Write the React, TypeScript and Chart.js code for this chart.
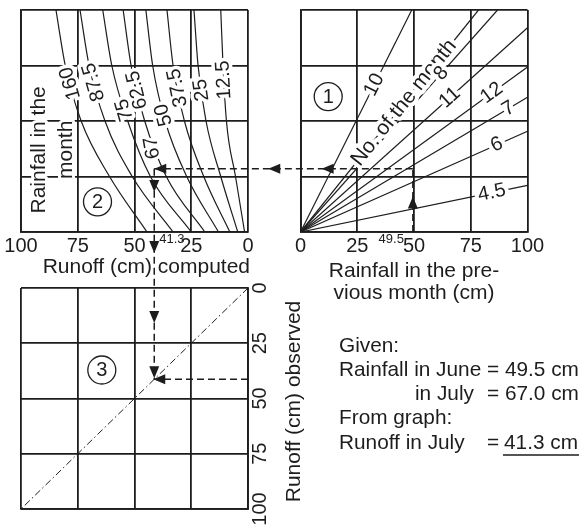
import React, { useEffect, useRef } from 'react';
import { Chart, registerables } from 'chart.js';

Chart.register(...registerables);

const W = 582;
const H = 526;
const INK = '#1d1d1d';
const FONT = '"Liberation Sans", Arial, Helvetica, sans-serif';

// ---------- data ----------
const AXIS_TICKS = [0, 25, 50, 75, 100];

// Panel 1: rainfall in previous month (x) -> index (y), one line per month
const MONTH_LABELS = ['10', 'No. of the month', '8', '11', '12', '7', '6', '4.5'];
const MONTH_END_RAIN = [49, 78.4, 86.8, 100, 100, 100, 100, 100];
const MONTH_END_INDEX = [100, 100, 100, 92, 74.3, 60.7, 45.4, 21];
const MONTH_LABEL_RAIN = [32.5, 45.6, 62, 65.8, 84.3, 91.6, 86.5, 84.3];

// Panel 2: runoff computed (x, reversed) vs index (y), one curve per monthly rainfall
const CURVE_LABELS = ['160', '87.5', '75', '62.5', '50', '37.5', '25', '12.5'];
const CURVE_INDEX = [0, 25, 50, 75, 100];
const RUNOFF_160 = [44.5, 61, 73.5, 80.5, 84.6];
const RUNOFF_87_5 = [33, 51, 63, 70, 74];
const RUNOFF_75 = [25, 43, 53, 60, 64];
const RUNOFF_62_5 = [19, 36, 45.5, 51.5, 55];
const RUNOFF_50 = [13, 27, 36.5, 42, 45];
const RUNOFF_37_5 = [8, 19.5, 28, 33, 35.7];
const RUNOFF_25 = [4.5, 12, 18.5, 22, 23.8];
const RUNOFF_12_5 = [1.5, 5.5, 9.5, 11, 12];
const CURVE_RUNOFF = [RUNOFF_160, RUNOFF_87_5, RUNOFF_75, RUNOFF_62_5, RUNOFF_50, RUNOFF_37_5, RUNOFF_25, RUNOFF_12_5];
const CURVE_LABEL_INDEX = [67, 67.5, 55, 64, 52.7, 65, 64, 68.5];

// Panel 3: computed vs observed (1:1 line)
const DIAGONAL_COMPUTED = [0, 100];
const DIAGONAL_OBSERVED = [0, 100];

// Worked example
const JUNE_RAINFALL = 49.5;
const JULY_RAINFALL = 67;
const JULY_INDEX = 28.5;
const RUNOFF_COMPUTED = 41.3;
const RUNOFF_OBSERVED = 41.3;

// Arrow tips along the worked path (panel units)
const P1_UP_ARROW_INDEX = 16;
const P1_LEFT_ARROW_RAIN = 9.3;
const P2_DOWN_ARROW_INDEX = 18;
const P3_DOWN_ARROW_OBS = 15.8;

// Panel markers
const MARK1 = [12.2, 61];
const MARK2 = [66.3, 13.6];
const MARK3 = [64.4, 37.1];
const MONTH_TEXT_RUNOFF = [89.4, 77.5];
const MONTH_TEXT_INDEX = 37;

// ---------- helpers ----------
function drawText(ctx: any, str: string, x: number, y: number, size: number, o: any = {}) {
  const { rot = 0, align = 'center', baseline = 'middle', halo = 0 } = o;
  ctx.save();
  ctx.translate(x, y);
  ctx.rotate(rot);
  ctx.font = `${size}px ${FONT}`;
  ctx.textAlign = align;
  ctx.textBaseline = baseline;
  if (halo) {
    ctx.lineJoin = 'round';
    ctx.strokeStyle = '#fff';
    ctx.lineWidth = halo;
    ctx.strokeText(str, 0, 0);
  }
  ctx.fillStyle = INK;
  ctx.fillText(str, 0, 0);
  ctx.restore();
}

function drawCircled(ctx: any, str: string, x: number, y: number) {
  ctx.save();
  ctx.fillStyle = '#fff';
  ctx.beginPath();
  ctx.arc(x, y, 14, 0, Math.PI * 2);
  ctx.fill();
  ctx.lineWidth = 1.3;
  ctx.strokeStyle = INK;
  ctx.stroke();
  ctx.restore();
  drawText(ctx, str, x, y + 0.5, 20);
}

function drawArrow(ctx: any, x: number, y: number, dir: string) {
  const L = 12;
  const HW = 5;
  const d = dir === 'up' ? [0, -1] : dir === 'down' ? [0, 1] : dir === 'left' ? [-1, 0] : [1, 0];
  const bx = x - d[0] * L;
  const by = y - d[1] * L;
  ctx.save();
  ctx.beginPath();
  ctx.moveTo(x, y);
  ctx.lineTo(bx - d[1] * HW, by + d[0] * HW);
  ctx.lineTo(bx + d[1] * HW, by - d[0] * HW);
  ctx.closePath();
  ctx.fillStyle = INK;
  ctx.fill();
  ctx.restore();
}

function dashed(ctx: any, pts: number[][]) {
  ctx.save();
  ctx.setLineDash([7, 4]);
  ctx.lineWidth = 1.5;
  ctx.strokeStyle = INK;
  ctx.beginPath();
  pts.forEach((p, i) => (i ? ctx.lineTo(p[0], p[1]) : ctx.moveTo(p[0], p[1])));
  ctx.stroke();
  ctx.restore();
}

function interp(xs: number[], ys: number[], v: number) {
  for (let i = 0; i < xs.length - 1; i++) {
    if (v >= xs[i] && v <= xs[i + 1]) {
      const t = (v - xs[i]) / (xs[i + 1] - xs[i]);
      return ys[i] + t * (ys[i + 1] - ys[i]);
    }
  }
  return v < xs[0] ? ys[0] : ys[ys.length - 1];
}

const gridOpts = { color: INK, lineWidth: 1.8, drawTicks: false };
const borderOpts = { display: true, color: INK, width: 1.8 };
const tickFont = { family: FONT, size: 20 };
const setTicks = (s: any) => {
  s.ticks = AXIS_TICKS.map((v) => ({ value: v }));
};

function baseOptions(padding: any) {
  return {
    responsive: false,
    animation: false,
    devicePixelRatio: 1,
    events: [],
    layout: { padding, autoPadding: false },
    plugins: { legend: { display: false }, tooltip: { enabled: false }, title: { display: false } },
  };
}

// ---------- panel plugins ----------
const panel1Plugin = {
  id: 'panel1Labels',
  afterDatasetsDraw(chart: any) {
    const { ctx } = chart;
    const { x, y } = chart.scales;
    MONTH_LABELS.forEach((lab, i) => {
      const slope = MONTH_END_INDEX[i] / MONTH_END_RAIN[i];
      const lx = MONTH_LABEL_RAIN[i];
      const px = x.getPixelForValue(lx);
      const py = y.getPixelForValue(slope * lx);
      const ang = Math.atan2(
        y.getPixelForValue(MONTH_END_INDEX[i]) - y.getPixelForValue(0),
        x.getPixelForValue(MONTH_END_RAIN[i]) - x.getPixelForValue(0)
      );
      drawText(ctx, lab, px, py, lab.length > 4 ? 21 : 20, { rot: ang, halo: 8 });
    });
    drawCircled(ctx, '1', x.getPixelForValue(MARK1[0]), y.getPixelForValue(MARK1[1]));
    drawText(ctx, String(JUNE_RAINFALL), x.getPixelForValue(JUNE_RAINFALL) - 9, chart.chartArea.bottom + 11, 13, {
      align: 'right',
      baseline: 'alphabetic',
    });
  },
};

const panel2Plugin = {
  id: 'panel2Labels',
  afterDatasetsDraw(chart: any) {
    const { ctx, chartArea } = chart;
    const { x, y } = chart.scales;
    CURVE_LABELS.forEach((lab, i) => {
      const v = CURVE_LABEL_INDEX[i];
      const r = interp(CURVE_INDEX, CURVE_RUNOFF[i], v);
      const rLo = interp(CURVE_INDEX, CURVE_RUNOFF[i], v - 6);
      const rHi = interp(CURVE_INDEX, CURVE_RUNOFF[i], v + 6);
      const ang = Math.atan2(
        y.getPixelForValue(v + 6) - y.getPixelForValue(v - 6),
        x.getPixelForValue(rHi) - x.getPixelForValue(rLo)
      );
      drawText(ctx, lab, x.getPixelForValue(r), y.getPixelForValue(v), 20, { rot: ang, halo: 7 });
    });
    drawText(ctx, 'Rainfall in the', x.getPixelForValue(MONTH_TEXT_RUNOFF[0]), y.getPixelForValue(MONTH_TEXT_INDEX), 21, {
      rot: -Math.PI / 2,
      baseline: 'alphabetic',
      halo: 6,
    });
    drawText(ctx, 'month', x.getPixelForValue(MONTH_TEXT_RUNOFF[1]), y.getPixelForValue(MONTH_TEXT_INDEX), 21, {
      rot: -Math.PI / 2,
      baseline: 'alphabetic',
      halo: 6,
    });
    drawCircled(ctx, '2', x.getPixelForValue(MARK2[0]), y.getPixelForValue(MARK2[1]));
    const xr = x.getPixelForValue(RUNOFF_COMPUTED);
    drawText(ctx, String(JULY_RAINFALL), xr - 2, y.getPixelForValue(JULY_INDEX) - 21, 20, {
      rot: (-100 * Math.PI) / 180,
      halo: 6,
    });
    drawText(ctx, String(RUNOFF_COMPUTED), xr + 5, chartArea.bottom + 11, 13, { align: 'left', baseline: 'alphabetic' });
    drawText(ctx, 'Runoff (cm) computed', chartArea.right + 2, chartArea.bottom + 41, 21, {
      align: 'right',
      baseline: 'alphabetic',
    });
  },
};

function makePanel3Plugin(c1: any, c2: any) {
  return {
    id: 'panel3Labels',
    afterDraw(chart: any) {
      const { ctx, chartArea } = chart;
      const a1 = c1.scales;
      const a2 = c2.scales;
      const a3 = chart.scales;
      drawCircled(ctx, '3', a3.x.getPixelForValue(MARK3[0]), a3.y.getPixelForValue(MARK3[1]));
      drawText(ctx, 'Runoff (cm) observed', chartArea.right + 52, (chartArea.top + chartArea.bottom) / 2 + 3, 21, {
        rot: -Math.PI / 2,
        baseline: 'alphabetic',
      });

      // worked path
      const xJune = a1.x.getPixelForValue(JUNE_RAINFALL);
      const yIdx1 = a1.y.getPixelForValue(JULY_INDEX);
      const yIdx2 = a2.y.getPixelForValue(JULY_INDEX);
      const xRun2 = a2.x.getPixelForValue(RUNOFF_COMPUTED);
      const xRun3 = a3.x.getPixelForValue(RUNOFF_COMPUTED);
      const yObs3 = a3.y.getPixelForValue(RUNOFF_OBSERVED);
      dashed(ctx, [[xJune, a1.y.getPixelForValue(0)], [xJune, yIdx1]]);
      dashed(ctx, [[xJune, yIdx1], [xRun2, yIdx2]]);
      dashed(ctx, [[xRun2, yIdx2], [xRun3, yObs3]]);
      dashed(ctx, [[a3.x.getPixelForValue(0), yObs3], [xRun3, yObs3]]);

      drawArrow(ctx, xJune, a1.y.getPixelForValue(P1_UP_ARROW_INDEX), 'up');
      drawArrow(ctx, a1.x.getPixelForValue(P1_LEFT_ARROW_RAIN), yIdx1, 'left');
      const gapMid = (c2.chartArea.right + c1.chartArea.left) / 2;
      drawArrow(ctx, gapMid - 6, yIdx1, 'left');
      drawArrow(ctx, xRun2, yIdx2, 'left');
      drawArrow(ctx, xRun2, a2.y.getPixelForValue(P2_DOWN_ARROW_INDEX), 'down');
      drawArrow(ctx, xRun2, c2.chartArea.bottom + 21, 'down');
      drawArrow(ctx, xRun3, a3.y.getPixelForValue(P3_DOWN_ARROW_OBS), 'down');
      drawArrow(ctx, xRun3, yObs3 - 1, 'down');
      drawArrow(ctx, xRun3 - 1, yObs3, 'left');

      // given / result text
      const fs = 20.8;
      const opt = { align: 'left', baseline: 'alphabetic' };
      const eqX = 487;
      drawText(ctx, 'Given:', 339, 352, fs, opt);
      drawText(ctx, `Rainfall in June = ${JUNE_RAINFALL.toFixed(1)} cm`, 339, 376, fs, opt);
      drawText(ctx, 'in July', 415, 400, fs, opt);
      drawText(ctx, `= ${JULY_RAINFALL.toFixed(1)} cm`, eqX, 400, fs, opt);
      drawText(ctx, 'From graph:', 339, 424, fs, opt);
      drawText(ctx, 'Runoff in July', 339, 449, fs, opt);
      drawText(ctx, '=', eqX, 449, fs, opt);
      const res = `${RUNOFF_COMPUTED} cm`;
      drawText(ctx, res, 504, 449, fs, opt);
      ctx.save();
      ctx.font = `${fs}px ${FONT}`;
      const w = ctx.measureText(res).width;
      ctx.strokeStyle = INK;
      ctx.lineWidth = 1.5;
      ctx.beginPath();
      ctx.moveTo(503, 455);
      ctx.lineTo(505 + w, 455);
      ctx.stroke();
      ctx.restore();
    },
  };
}

// ---------- component ----------
export default function App() {
  const r1 = useRef<HTMLCanvasElement>(null);
  const r2 = useRef<HTMLCanvasElement>(null);
  const r3 = useRef<HTMLCanvasElement>(null);

  useEffect(() => {
    const c2 = new Chart(r2.current as any, {
      type: 'scatter',
      data: {
        datasets: CURVE_LABELS.map((lab, i) => ({
          label: lab,
          data: CURVE_INDEX.map((v, j) => ({ x: CURVE_RUNOFF[i][j], y: v })),
          showLine: true,
          borderColor: INK,
          borderWidth: 1.2,
          pointRadius: 0,
          cubicInterpolationMode: 'monotone',
          fill: false,
        })),
      },
      options: {
        ...baseOptions({ left: 21, top: 10, right: W - 248, bottom: H - 232 - 40 }),
        scales: {
          x: {
            type: 'linear',
            reverse: true,
            min: 0,
            max: 100,
            afterBuildTicks: setTicks,
            ticks: { font: tickFont, color: INK, padding: 2, maxRotation: 0, autoSkip: false },
            grid: gridOpts,
            border: borderOpts,
            afterFit: (s: any) => {
              s.height = 40;
            },
          },
          y: {
            type: 'linear',
            min: 0,
            max: 100,
            afterBuildTicks: setTicks,
            ticks: { display: false },
            grid: gridOpts,
            border: borderOpts,
            afterFit: (s: any) => {
              s.width = 0;
            },
          },
        },
      } as any,
      plugins: [panel2Plugin],
    } as any);

    const c1 = new Chart(r1.current as any, {
      type: 'scatter',
      data: {
        datasets: MONTH_LABELS.map((lab, i) => ({
          label: lab,
          data: [
            { x: 0, y: 0 },
            { x: MONTH_END_RAIN[i], y: MONTH_END_INDEX[i] },
          ],
          showLine: true,
          borderColor: INK,
          borderWidth: 1.2,
          pointRadius: 0,
          fill: false,
        })),
      },
      options: {
        ...baseOptions({ left: 300.5, top: 10, right: W - 527.5, bottom: H - 232 - 72 }),
        scales: {
          x: {
            type: 'linear',
            min: 0,
            max: 100,
            afterBuildTicks: setTicks,
            ticks: { font: tickFont, color: INK, padding: 2, maxRotation: 0, autoSkip: false },
            grid: gridOpts,
            border: borderOpts,
            title: {
              display: true,
              text: ['Rainfall in the pre-', 'vious month (cm)'],
              font: { family: FONT, size: 21, lineHeight: 1.04 },
              color: INK,
              padding: 0,
            },
            afterFit: (s: any) => {
              s.height = 72;
            },
          },
          y: {
            type: 'linear',
            min: 0,
            max: 100,
            afterBuildTicks: setTicks,
            ticks: { display: false },
            grid: gridOpts,
            border: borderOpts,
            afterFit: (s: any) => {
              s.width = 0;
            },
          },
        },
      } as any,
      plugins: [panel1Plugin],
    } as any);

    const c3 = new Chart(r3.current as any, {
      type: 'scatter',
      data: {
        datasets: [
          {
            label: '1:1',
            data: DIAGONAL_COMPUTED.map((v, i) => ({ x: v, y: DIAGONAL_OBSERVED[i] })),
            showLine: true,
            borderColor: INK,
            borderWidth: 1,
            borderDash: [7, 3, 1.5, 3],
            pointRadius: 0,
            fill: false,
          },
        ],
      },
      options: {
        ...baseOptions({ left: 21, top: 288, right: W - 248 - 60, bottom: H - 509 }),
        scales: {
          x: {
            type: 'linear',
            reverse: true,
            min: 0,
            max: 100,
            afterBuildTicks: setTicks,
            ticks: { display: false },
            grid: gridOpts,
            border: borderOpts,
            afterFit: (s: any) => {
              s.height = 0;
            },
          },
          y: {
            type: 'linear',
            position: 'right',
            reverse: true,
            min: 0,
            max: 100,
            afterBuildTicks: setTicks,
            ticks: {
              font: tickFont,
              color: INK,
              padding: -4.7,
              minRotation: 90,
              maxRotation: 90,
              crossAlign: 'center',
              autoSkip: false,
            },
            grid: gridOpts,
            border: borderOpts,
            afterFit: (s: any) => {
              s.width = 60;
            },
          },
        },
      } as any,
      plugins: [makePanel3Plugin(c1, c2)],
    } as any);

    return () => {
      c3.destroy();
      c1.destroy();
      c2.destroy();
    };
  }, []);

  const cs: any = { position: 'absolute', left: 0, top: 0, width: W, height: H };
  return (
    <div style={{ position: 'absolute', left: 0, top: 0, width: W, height: H, background: '#fff' }}>
      <canvas ref={r2} width={W} height={H} style={cs} />
      <canvas ref={r1} width={W} height={H} style={cs} />
      <canvas ref={r3} width={W} height={H} style={cs} />
    </div>
  );
}
